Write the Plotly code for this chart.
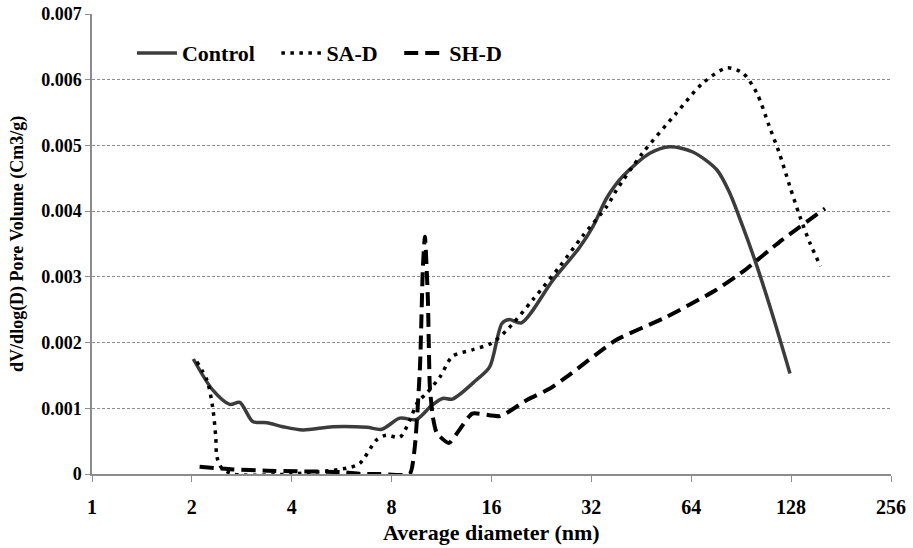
import plotly.graph_objects as go

ctrl_x = [2.02, 2.31, 2.6, 2.79, 3.05, 3.37, 3.76, 4.32, 5.32, 6.74, 7.47, 8.47, 9.5, 10.6, 11.4, 12.2, 14.4, 15.8,
          17.2, 18.1, 19.7, 24.5, 29.5, 32.3, 35.6, 39.8, 48, 55.2, 64.7, 76.4, 83.7, 91.6, 101, 113, 127]
ctrl_y = [0.00175, 0.00128, 0.00106, 0.00109, 0.0008, 0.00078, 0.00072, 0.00067, 0.00072, 0.00071, 0.00068, 0.00085,
          0.00083, 0.00105, 0.00115, 0.00114, 0.00143, 0.00163, 0.00229, 0.00235, 0.0023, 0.00295, 0.00345, 0.00376,
          0.0042, 0.00453, 0.00488, 0.00498, 0.0049, 0.00463, 0.00427, 0.00376, 0.00316, 0.00239, 0.00153]

sa_x = [2.07, 2.22, 2.31, 2.36, 2.38, 2.46, 2.66, 4.0, 5.86, 6.41, 7.21, 7.7, 8.47, 9.07, 9.6, 10.2, 11.2, 12.2,
        14.0, 16.0, 17.8, 21.3, 25.7, 30.1, 35.6, 38.1, 45.6, 57.7, 69.4, 82, 91.6, 101, 110, 118, 127, 136, 146, 157]
sa_y = [0.00171, 0.00143, 0.00102, 0.00057, 0.00026, 0.00009, 0.0, 0.0, 0.00009, 0.00016, 0.00052, 0.00059, 0.00056,
        0.00082, 0.0011, 0.00123, 0.00148, 0.00179, 0.00189, 0.00199, 0.00219, 0.00265, 0.00316, 0.00362, 0.00407,
        0.00432, 0.00488, 0.00549, 0.00595, 0.00618, 0.0061, 0.00579, 0.00529, 0.00488, 0.00437, 0.00392, 0.00351,
        0.00316]

sh_x = [2.11, 2.66, 3.37, 4.23, 5.6, 6.5, 7.4, 9.07, 9.4, 9.74, 9.94, 10.08, 10.29, 10.43, 10.65, 10.95, 11.9,
        12.8, 14.0, 17.0, 20.5, 24.0, 27.0, 38.0, 53.9, 76, 91.6, 120, 162]
sh_y = [0.00011, 0.00007, 0.00005, 0.00004, 0.00003, 0.0, 0.0, 0.0, 0.00042, 0.00163, 0.00316, 0.00361, 0.00265,
        0.00133, 0.00087, 0.00062, 0.00047, 0.00067, 0.00092, 0.00088, 0.00113, 0.0013, 0.00148, 0.00204, 0.00239,
        0.0028, 0.00308, 0.00356, 0.00404]

series_names = ["Control", "SA-D", "SH-D"]
x_ticks = [1, 2, 4, 8, 16, 32, 64, 128, 256]
y_ticks = [0, 0.001, 0.002, 0.003, 0.004, 0.005, 0.006, 0.007]
y_tick_text = ["0", "0.001", "0.002", "0.003", "0.004", "0.005", "0.006", "0.007"]
x_title = "Average diameter (nm)"
y_title = "dV/dlog(D) Pore Volume (Cm3/g)"

FONT = "Liberation Serif"
PAD = "\u00a0" * 3

fig = go.Figure()
fig.add_trace(go.Scatter(x=ctrl_x, y=ctrl_y, name=series_names[0] + PAD, mode="lines",
                         line=dict(color="#3c3c3c", width=3.5, shape="spline", smoothing=0.8)))
fig.add_trace(go.Scatter(x=sa_x, y=sa_y, name=series_names[1] + PAD, mode="lines",
                         line=dict(color="#000000", width=3.5, dash="3.5px,5.5px", shape="spline", smoothing=0.8)))
fig.add_trace(go.Scatter(x=sh_x, y=sh_y, name=series_names[2], mode="lines",
                         line=dict(color="#000000", width=4, dash="14px,7px", shape="spline", smoothing=0.5)))

fig.update_layout(
    width=913, height=548,
    margin=dict(l=92, r=22, t=14, b=74),
    paper_bgcolor="white", plot_bgcolor="white",
    font=dict(family=FONT, color="black", size=18, weight="bold"),
    showlegend=True,
    legend=dict(orientation="h", x=0.05, xanchor="left", y=0.915, yanchor="middle",
                font=dict(family=FONT, size=22, weight="bold"), bgcolor="rgba(0,0,0,0)",
                itemwidth=40, tracegroupgap=0),
    xaxis=dict(type="log", range=[0, 2.40824], tickvals=x_ticks, ticktext=[str(v) for v in x_ticks],
               showgrid=False, showline=True, linecolor="#8c8c8c", linewidth=1.5,
               ticks="outside", ticklen=6, tickcolor="#8c8c8c", ticklabelstandoff=8,
               tickfont=dict(family=FONT, size=20, weight="bold"),
               automargin=False, zeroline=False),
    yaxis=dict(range=[0, 0.007], tickvals=y_ticks, ticktext=y_tick_text,
               showgrid=True, gridcolor="#8c8c8c", gridwidth=1, griddash="3px,2px",
               showline=True, linecolor="#8c8c8c", linewidth=1.5,
               ticks="outside", ticklen=5, tickcolor="#8c8c8c",
               tickfont=dict(family=FONT, size=18, weight="bold"),
               automargin=False, zeroline=False),
    annotations=[
        dict(text=y_title, textangle=-90, xref="paper", yref="paper",
             x=-0.094, y=0.5, xanchor="center", yanchor="middle", showarrow=False,
             font=dict(family=FONT, size=18, weight="bold")),
        dict(text=x_title, xref="paper", yref="paper",
             x=0.5, y=-0.128, xanchor="center", yanchor="middle", showarrow=False,
             font=dict(family=FONT, size=22, weight="bold")),
    ],
)

fig.write_html("out.html")
